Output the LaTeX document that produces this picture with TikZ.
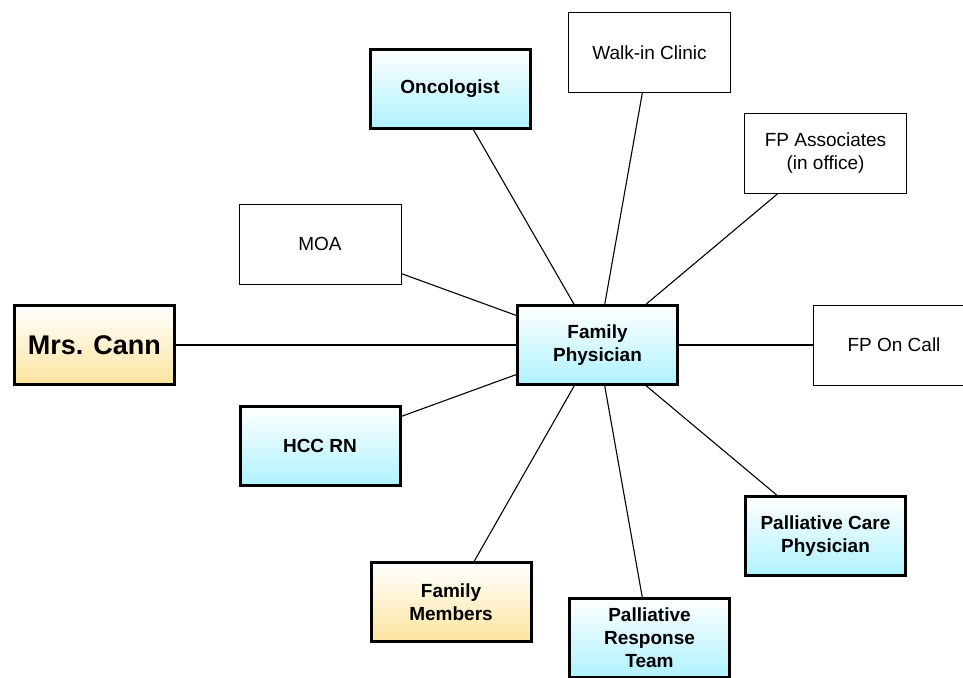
\documentclass[tikz,border=0pt]{standalone}
\usepackage{fontspec}
\setmainfont{Liberation Sans}
\definecolor{cyanlo}{HTML}{AEF2FF}
\definecolor{sandlo}{HTML}{FCE49E}
\begin{document}
\begin{tikzpicture}[x=1pt,y=-1pt,line width=1.1pt,
  box/.style={draw,minimum width=162pt,minimum height=80pt,align=center,
    inner sep=0pt,line width=1pt,font=\fontsize{19}{23}\selectfont},
  key/.style={box,line width=3pt,minimum width=160pt,minimum height=79pt,
    font=\fontsize{19}{23}\selectfont\bfseries,top color=white,bottom color=cyanlo},
  kin/.style={key,bottom color=sandlo}]
  \useasboundingbox (0,0) rectangle (963,677);

  % centre and patient
  \node[key] (fp) at (597.5,345) {Family\\Physician};
  \node[kin,font=\fontsize{27}{30}\selectfont\bfseries] (cann) at (94.5,345) {Mrs. Cann};

  % care team
  \node[key] (onc) at (450,89) {Oncologist};
  \node[box] (walk) at (649.5,52.5) {Walk-in Clinic};
  \node[box] (assoc) at (825.5,153.5) {FP Associates\\(in office)};
  \node[box] (moa) at (320,244) {MOA};
  \node[box] (oncall) at (894,345) {FP On Call};
  \node[key] (hcc) at (320,446) {HCC RN};
  \node[kin] (family) at (451,602) {Family\\Members};
  \node[key] (prt) at (649.5,638) {Palliative\\Response\\Team};
  \node[key] (pcp) at (825.5,536) {Palliative Care\\Physician};

  \draw (cann) -- (fp);
  \draw (onc) -- (fp);
  \draw (walk) -- (fp);
  \draw (assoc) -- (fp);
  \draw (moa) -- (fp);
  \draw (oncall) -- (fp);
  \draw (hcc) -- (fp);
  \draw (family) -- (fp);
  \draw (prt) -- (fp);
  \draw (pcp) -- (fp);
\end{tikzpicture}
\end{document}
